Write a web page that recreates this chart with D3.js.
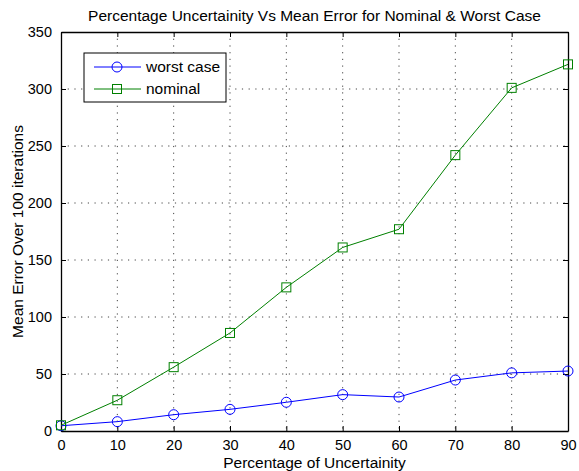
<!DOCTYPE html>
<html>
<head>
<meta charset="utf-8">
<script src="https://cdn.jsdelivr.net/npm/d3@7"></script>
<style>
  body { margin: 0; background: #fff; }
  svg { display: block; font-family: "Liberation Sans", Arial, sans-serif; }
  .grid line { stroke: #444; stroke-width: 1; stroke-dasharray: 1.2, 5.5; }
  .axis path, .axis line { stroke: #000; }
  .axis text { font-size: 14.5px; fill: #000; }
</style>
</head>
<body>
<svg width="579" height="471"></svg>
<script>
'use strict';

var uncertainty = [0, 10, 20, 30, 40, 50, 60, 70, 80, 90];
var worstCase = [4.6, 8.2, 14.3, 19, 25.2, 31.9, 29.8, 44.7, 51, 52.6];
var nominal = [5, 27, 56, 86, 126, 161, 177, 242, 301, 321.6];
var xTicks = [0, 10, 20, 30, 40, 50, 60, 70, 80, 90];
var yTicks = [0, 50, 100, 150, 200, 250, 300, 350];

var PAD = { left: 61, top: 32, right: 11, bottom: 40 },
  WIDTH = 579 - PAD.left - PAD.right,
  HEIGHT = 471 - PAD.top - PAD.bottom;

var svg = d3.select('svg');

var xScale = d3.scaleLinear().domain([0, 90]).range([0, WIDTH]);
var yScale = d3.scaleLinear().domain([0, 350]).range([HEIGHT, 0]);

var container = svg.append('g')
  .attr('transform', 'translate(' + PAD.left + ',' + PAD.top + ')');

// grid
var grid = container.append('g').attr('class', 'grid');
grid.selectAll('.gx')
  .data(xTicks.slice(1, -1))
  .enter().append('line')
  .attr('x1', function(d) { return xScale(d); })
  .attr('x2', function(d) { return xScale(d); })
  .attr('y1', 0)
  .attr('y2', HEIGHT);
grid.selectAll('.gy')
  .data(yTicks.slice(1, -1))
  .enter().append('line')
  .attr('x1', 0)
  .attr('x2', WIDTH)
  .attr('y1', function(d) { return yScale(d); })
  .attr('y2', function(d) { return yScale(d); });

// axes, ticks inward on all four sides
container.append('g')
  .attr('class', 'axis')
  .attr('transform', 'translate(0,' + HEIGHT + ')')
  .call(d3.axisBottom(xScale).tickValues(xTicks).tickSizeInner(-5).tickSizeOuter(0).tickPadding(9));
container.append('g')
  .attr('class', 'axis')
  .call(d3.axisTop(xScale).tickValues(xTicks).tickSizeInner(-5).tickSizeOuter(0).tickFormat(''));
container.append('g')
  .attr('class', 'axis')
  .call(d3.axisLeft(yScale).tickValues(yTicks).tickSizeInner(-5).tickSizeOuter(0).tickPadding(9));
container.append('g')
  .attr('class', 'axis')
  .attr('transform', 'translate(' + WIDTH + ',0)')
  .call(d3.axisRight(yScale).tickValues(yTicks).tickSizeInner(-5).tickSizeOuter(0).tickFormat(''));

container.selectAll('.axis .domain').attr('stroke-width', 1.3);

var line = d3.line()
  .x(function(d) { return xScale(d[0]); })
  .y(function(d) { return yScale(d[1]); });

var series = [
  { name: 'worst case', values: worstCase, color: '#0000ff', marker: 'circle' },
  { name: 'nominal', values: nominal, color: '#008000', marker: 'square' }
];

series.forEach(function(s) {
  var pts = uncertainty.map(function(u, i) { return [u, s.values[i]]; });
  container.append('path')
    .datum(pts)
    .attr('fill', 'none')
    .attr('stroke', s.color)
    .attr('stroke-width', 1)
    .attr('d', line);
  drawMarkers(container, pts, s);
});

function drawMarkers(g, pts, s) {
  if (s.marker === 'circle') {
    g.selectAll(null).data(pts).enter().append('circle')
      .attr('cx', function(d) { return xScale(d[0]); })
      .attr('cy', function(d) { return yScale(d[1]); })
      .attr('r', 5)
      .attr('fill', 'none')
      .attr('stroke', s.color);
  } else {
    g.selectAll(null).data(pts).enter().append('rect')
      .attr('x', function(d) { return xScale(d[0]) - 4.5; })
      .attr('y', function(d) { return yScale(d[1]) - 4.5; })
      .attr('width', 9)
      .attr('height', 9)
      .attr('fill', 'none')
      .attr('stroke', s.color);
  }
}

// legend
var legend = container.append('g')
  .attr('transform', 'translate(23,21)');
legend.append('rect')
  .attr('width', 142)
  .attr('height', 49)
  .attr('fill', '#fff')
  .attr('stroke', '#000');
series.forEach(function(s, i) {
  var row = legend.append('g')
    .attr('transform', 'translate(0,' + (14 + i * 22) + ')');
  row.append('line')
    .attr('x1', 10).attr('x2', 57)
    .attr('stroke', s.color);
  if (s.marker === 'circle') {
    row.append('circle').attr('cx', 33).attr('r', 5)
      .attr('fill', 'none').attr('stroke', s.color);
  } else {
    row.append('rect').attr('x', 28.5).attr('y', -4.5).attr('width', 9).attr('height', 9)
      .attr('fill', 'none').attr('stroke', s.color);
  }
  row.append('text')
    .attr('x', 62)
    .attr('dy', '0.35em')
    .attr('font-size', 15.5)
    .text(s.name);
});

// titles
svg.append('text')
  .attr('x', PAD.left + WIDTH / 2)
  .attr('y', 21)
  .attr('text-anchor', 'middle')
  .attr('font-size', 15.5)
  .text('Percentage Uncertainity Vs Mean Error for Nominal & Worst Case');

svg.append('text')
  .attr('x', PAD.left + WIDTH / 2)
  .attr('y', 468)
  .attr('text-anchor', 'middle')
  .attr('font-size', 15.5)
  .text('Percentage of Uncertainity');

svg.append('text')
  .attr('transform', 'translate(23,' + (PAD.top + HEIGHT / 2) + ') rotate(-90)')
  .attr('text-anchor', 'middle')
  .attr('font-size', 15.5)
  .text('Mean Error Over 100 iterations');
</script>
</body>
</html>
